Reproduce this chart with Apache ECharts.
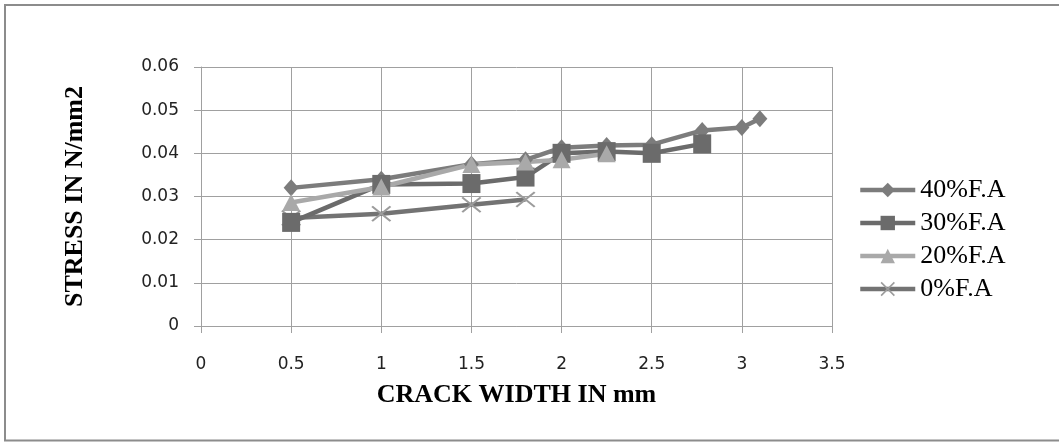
<!DOCTYPE html>
<html>
<head>
<meta charset="utf-8">
<script src="https://cdn.jsdelivr.net/npm/echarts@6/dist/echarts.min.js"></script>
<style>
  html, body { margin: 0; padding: 0; background: #fff; }
  #chart { width: 1059px; height: 442px; }
</style>
</head>
<body>
<div id="chart"></div>
<script>
// Crack width (mm) vs. stress (N/mm2) for each fly-ash replacement level
const fa40 = [[0.5, 0.032], [1, 0.034], [1.5, 0.0375], [1.8, 0.0385], [2, 0.0413], [2.25, 0.0418], [2.5, 0.042], [2.78, 0.0453], [3, 0.046], [3.1, 0.048]];
const fa30 = [[0.5, 0.024], [1, 0.0328], [1.5, 0.033], [1.8, 0.0345], [2, 0.040], [2.25, 0.0404], [2.5, 0.040], [2.78, 0.0422]];
const fa20 = [[0.5, 0.0286], [1, 0.0322], [1.5, 0.0374], [1.8, 0.038], [2, 0.0385], [2.25, 0.0399]];
const fa0  = [[0.5, 0.025], [1, 0.026], [1.5, 0.0281], [1.8, 0.0293]];
const seriesNames = ['40%F.A', '30%F.A', '20%F.A', '0%F.A'];

const crossSymbol = 'path://M0,0.8L0.8,0L10,9.2L9.2,10Z M9.2,0L10,0.8L0.8,10L0,9.2Z';

const chart = echarts.init(document.getElementById('chart'), null, { renderer: 'canvas' });

function lineSeries(name, data, color, symbol, size, symbolColor, z) {
  return {
    name: name,
    type: 'line',
    z: z,
    data: data,
    symbol: symbol,
    symbolSize: size,
    showAllSymbol: true,
    lineStyle: { color: color, width: 4.5 },
    itemStyle: { color: symbolColor || color, borderWidth: 0 },
    emphasis: { disabled: true },
    animation: false
  };
}

chart.setOption({
  animation: false,
  backgroundColor: '#ffffff',
  graphic: [{
    type: 'rect',
    shape: { x: 5, y: 5, width: 1070, height: 435.5 },
    style: { fill: 'none', stroke: '#8c8c8c', lineWidth: 2 },
    silent: true,
    z: 100
  }],
  grid: { left: 201, top: 67, right: 227, bottom: 116, containLabel: false },
  legend: {
    orient: 'vertical',
    left: 853,
    top: 172,
    itemWidth: 55,
    itemHeight: 18,
    itemGap: 7,
    data: seriesNames,
    lineStyle: { width: 4.5 },
    textStyle: { fontFamily: 'Liberation Serif', fontSize: 26, color: '#000', lineHeight: 24 },
    selectedMode: false
  },
  xAxis: {
    type: 'value',
    min: 0, max: 3.5, interval: 0.5,
    name: 'CRACK WIDTH IN mm',
    nameLocation: 'middle',
    nameGap: 56,
    nameTextStyle: { fontFamily: 'Liberation Serif', fontWeight: 'bold', fontSize: 26, color: '#000' },
    axisLine: { show: true, onZero: false, lineStyle: { color: '#a0a0a0', width: 1 } },
    axisTick: { show: true, inside: false, length: 7, lineStyle: { color: '#a0a0a0' } },
    axisLabel: { margin: 30, fontFamily: 'DejaVu Sans', fontSize: 17, color: '#222', formatter: v => String(v) },
    splitLine: { show: true, lineStyle: { color: '#a0a0a0', width: 1 } }
  },
  yAxis: {
    type: 'value',
    min: 0, max: 0.06, interval: 0.01,
    name: 'STRESS IN N/mm2',
    nameLocation: 'middle',
    nameGap: 113,
    nameTextStyle: { fontFamily: 'Liberation Serif', fontWeight: 'bold', fontSize: 26, color: '#000' },
    axisLine: { show: true, lineStyle: { color: '#a0a0a0', width: 1 } },
    axisTick: { show: true, inside: false, length: 7, lineStyle: { color: '#a0a0a0' } },
    axisLabel: { margin: 22, fontFamily: 'DejaVu Sans', fontSize: 17, color: '#222', formatter: v => v === 0 ? '0' : v.toFixed(2) },
    splitLine: { show: true, lineStyle: { color: '#a0a0a0', width: 1 } }
  },
  series: [
    lineSeries(seriesNames[0], fa40, '#7c7c7c', 'diamond', [15, 17], null, 3),
    lineSeries(seriesNames[1], fa30, '#6b6b6b', 'rect', [18, 19], null, 3),
    lineSeries(seriesNames[2], fa20, '#a9a9a9', 'triangle', [18, 17], null, 3),
    lineSeries(seriesNames[3], fa0, '#737373', crossSymbol, [20, 16], '#9c9c9c', 2)
  ]
});
</script>
</body>
</html>
